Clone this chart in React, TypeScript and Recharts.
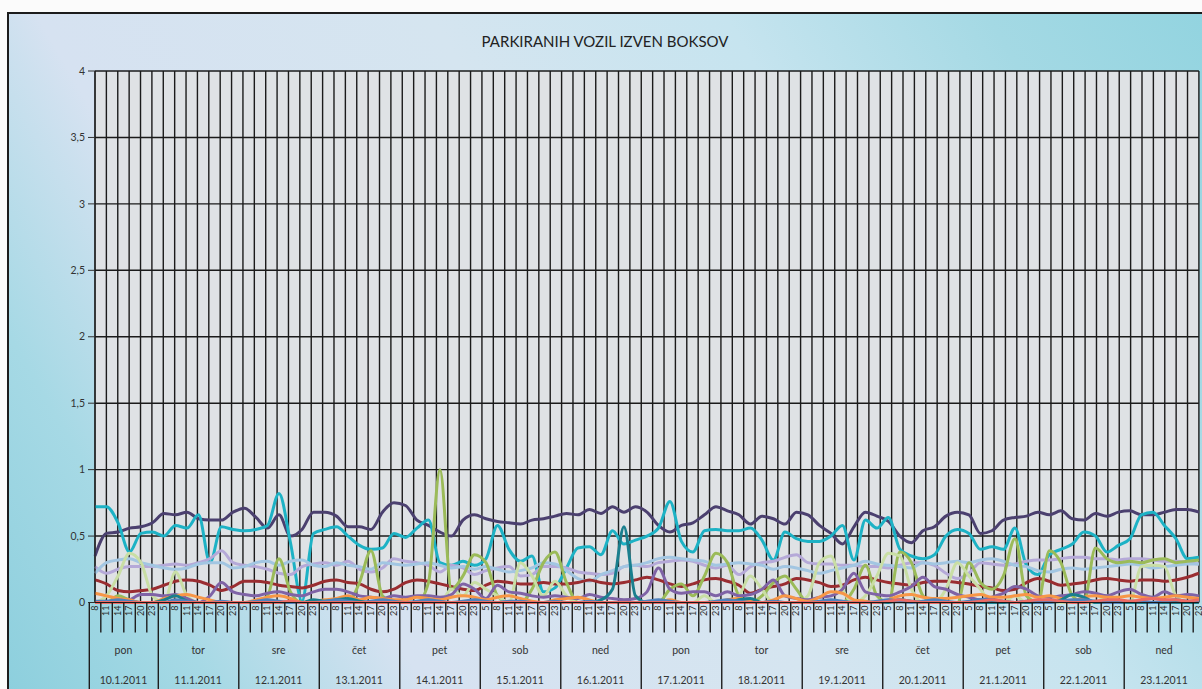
import { ComposedChart, Line, XAxis, YAxis, CartesianGrid } from "recharts";

// days shown on the category axis
const dayNames = ["pon", "tor", "sre", "čet", "pet", "sob", "ned", "pon", "tor", "sre", "čet", "pet", "sob", "ned"];
const dates = ["10.1.2011", "11.1.2011", "12.1.2011", "13.1.2011", "14.1.2011", "15.1.2011", "16.1.2011",
  "17.1.2011", "18.1.2011", "19.1.2011", "20.1.2011", "21.1.2011", "22.1.2011", "23.1.2011"];
const firstDayHours = [8, 11, 14, 17, 20, 23];
const dayHours = [5, 8, 11, 14, 17, 20, 23];

const yTicks = [0, 0.5, 1, 1.5, 2, 2.5, 3, 3.5, 4];

// one row per day
const s1 = [
  0.35, 0.52, 0.53, 0.56, 0.57, 0.60,
  0.67, 0.66, 0.68, 0.63, 0.62, 0.62, 0.68,
  0.71, 0.64, 0.56, 0.66, 0.50, 0.55, 0.68,
  0.68, 0.65, 0.57, 0.57, 0.55, 0.68, 0.75,
  0.73, 0.62, 0.58, 0.53, 0.50, 0.62, 0.66,
  0.63, 0.61, 0.60, 0.59, 0.62, 0.63, 0.65,
  0.67, 0.66, 0.70, 0.67, 0.72, 0.68, 0.72,
  0.68, 0.58, 0.53, 0.58, 0.60, 0.66, 0.72,
  0.69, 0.66, 0.59, 0.65, 0.63, 0.59, 0.68,
  0.66, 0.58, 0.52, 0.44, 0.57, 0.68, 0.65,
  0.61, 0.50, 0.45, 0.54, 0.57, 0.65, 0.68,
  0.66, 0.52, 0.54, 0.62, 0.64, 0.65, 0.68,
  0.66, 0.69, 0.63, 0.62, 0.67, 0.65, 0.68,
  0.69, 0.66, 0.66, 0.68, 0.70, 0.70, 0.68,
];
const s2 = [
  0.72, 0.72, 0.60, 0.38, 0.52, 0.53,
  0.50, 0.58, 0.56, 0.66, 0.30, 0.57, 0.55,
  0.54, 0.55, 0.58, 0.82, 0.45, 0.01, 0.52,
  0.55, 0.57, 0.50, 0.43, 0.40, 0.41, 0.52,
  0.49, 0.56, 0.62, 0.30, 0.28, 0.31, 0.28,
  0.33, 0.58, 0.40, 0.31, 0.35, 0.08, 0.11,
  0.26, 0.41, 0.42, 0.36, 0.54, 0.44, 0.47,
  0.50, 0.56, 0.76, 0.46, 0.38, 0.54, 0.55,
  0.54, 0.54, 0.56, 0.47, 0.32, 0.53, 0.48,
  0.46, 0.46, 0.50, 0.58, 0.32, 0.62, 0.56,
  0.64, 0.40, 0.35, 0.33, 0.36, 0.50, 0.55,
  0.52, 0.40, 0.42, 0.40, 0.56, 0.28, 0.21,
  0.36, 0.40, 0.44, 0.53, 0.50, 0.38, 0.43,
  0.48, 0.66, 0.68, 0.58, 0.48, 0.33, 0.34,
];
const s3 = [
  0.27, 0.22, 0.25, 0.27, 0.27, 0.27,
  0.28, 0.29, 0.28, 0.30, 0.33, 0.39, 0.30,
  0.28, 0.27, 0.25, 0.22, 0.21, 0.27, 0.29,
  0.30, 0.28, 0.31, 0.25, 0.23, 0.26, 0.33,
  0.31, 0.30, 0.28, 0.23, 0.28, 0.26, 0.21,
  0.24, 0.26, 0.27, 0.20, 0.21, 0.27, 0.27,
  0.26, 0.23, 0.22, 0.21, 0.22, 0.27, 0.28,
  0.27, 0.30, 0.31, 0.32, 0.31, 0.28, 0.26,
  0.28, 0.21, 0.27, 0.30, 0.31, 0.34, 0.36,
  0.30, 0.29, 0.29, 0.28, 0.28, 0.27, 0.27,
  0.26, 0.28, 0.30, 0.30, 0.28, 0.22, 0.18,
  0.22, 0.30, 0.29, 0.28, 0.29, 0.31, 0.32,
  0.32, 0.33, 0.34, 0.34, 0.33, 0.33, 0.32,
  0.33, 0.33, 0.32, 0.31, 0.31, 0.30, 0.29,
];
const s4 = [
  0.22, 0.30, 0.32, 0.33, 0.30, 0.28,
  0.26, 0.25, 0.26, 0.29, 0.30, 0.30, 0.26,
  0.27, 0.30, 0.31, 0.28, 0.31, 0.32, 0.28,
  0.27, 0.30, 0.28, 0.27, 0.25, 0.30, 0.29,
  0.28, 0.29, 0.30, 0.28, 0.26, 0.27, 0.25,
  0.27, 0.25, 0.23, 0.24, 0.26, 0.30, 0.29,
  0.24, 0.18, 0.16, 0.21, 0.24, 0.27, 0.28,
  0.30, 0.33, 0.34, 0.33, 0.32, 0.31, 0.28,
  0.29, 0.30, 0.29, 0.28, 0.25, 0.27, 0.26,
  0.24, 0.22, 0.24, 0.26, 0.28, 0.31, 0.29,
  0.28, 0.27, 0.26, 0.30, 0.29, 0.30, 0.31,
  0.30, 0.32, 0.33, 0.31, 0.28, 0.27, 0.24,
  0.23, 0.25, 0.26, 0.25, 0.26, 0.27, 0.28,
  0.29, 0.28, 0.26, 0.27, 0.28, 0.29, 0.29,
];
const s5 = [
  0.17, 0.14, 0.09, 0.08, 0.09, 0.10,
  0.13, 0.16, 0.17, 0.16, 0.13, 0.09, 0.12,
  0.16, 0.16, 0.15, 0.13, 0.12, 0.11, 0.13,
  0.16, 0.17, 0.15, 0.14, 0.10, 0.08, 0.10,
  0.15, 0.17, 0.16, 0.14, 0.12, 0.10, 0.09,
  0.13, 0.16, 0.15, 0.14, 0.14, 0.15, 0.14,
  0.14, 0.15, 0.17, 0.15, 0.14, 0.15, 0.17,
  0.19, 0.17, 0.14, 0.12, 0.14, 0.17, 0.18,
  0.16, 0.13, 0.07, 0.10, 0.12, 0.14, 0.18,
  0.17, 0.15, 0.12, 0.13, 0.17, 0.19, 0.17,
  0.15, 0.14, 0.13, 0.15, 0.16, 0.16, 0.15,
  0.14, 0.12, 0.11, 0.09, 0.10, 0.15, 0.18,
  0.16, 0.13, 0.14, 0.15, 0.17, 0.18, 0.17,
  0.16, 0.17, 0.17, 0.16, 0.17, 0.19, 0.22,
];
const s6 = [
  0, 0, 0.05, 0.02, 0, 0,
  0, 0, 0, 0, 0, 0, 0,
  0, 0, 0.05, 0.33, 0.08, 0, 0,
  0, 0, 0, 0.15, 0.39, 0.05, 0,
  0, 0, 0.15, 1.0, 0.1, 0.2, 0.36,
  0.3, 0.05, 0, 0, 0.1, 0.3, 0.38,
  0.15, 0, 0, 0, 0, 0, 0,
  0, 0, 0.1, 0.14, 0.05, 0.2, 0.37,
  0.3, 0.05, 0, 0.05, 0.15, 0.2, 0.1,
  0, 0, 0, 0, 0.1, 0.28, 0.05,
  0, 0.38, 0.3, 0.05, 0, 0, 0,
  0.3, 0.15, 0.1, 0.2, 0.48, 0.05, 0,
  0.39, 0.3, 0.05, 0, 0.41, 0.33, 0.3,
  0.31, 0.3, 0.32, 0.33, 0.3, 0.31, 0.32,
];
const s7 = [
  0, 0.05, 0.2, 0.37, 0.3, 0.05,
  0, 0.23, 0.05, 0, 0, 0, 0,
  0, 0, 0, 0, 0, 0, 0,
  0, 0, 0, 0, 0, 0, 0,
  0, 0, 0, 0, 0.1, 0.05, 0.15,
  0.1, 0.05, 0, 0.3, 0.2, 0.05, 0.16,
  0.05, 0, 0, 0, 0, 0, 0,
  0, 0, 0, 0, 0, 0.05, 0,
  0, 0.05, 0.2, 0.1, 0, 0, 0,
  0.05, 0.3, 0.35, 0.1, 0, 0.05, 0.2,
  0.37, 0.35, 0.1, 0, 0, 0.1, 0.3,
  0.2, 0.1, 0, 0, 0.05, 0, 0,
  0, 0, 0, 0, 0, 0.05, 0,
  0, 0.27, 0.28, 0.27, 0.05, 0, 0,
];
const s8 = [
  0, 0, 0, 0.02, 0.06, 0.06,
  0.05, 0.06, 0.03, 0, 0.05, 0.15, 0.08,
  0.06, 0.05, 0.07, 0.08, 0.06, 0.05, 0.08,
  0.1, 0.1, 0.08, 0.05, 0.04, 0.03, 0.05,
  0.04, 0.05, 0.05, 0.04, 0.06, 0.14, 0.1,
  0.03, 0.13, 0.08, 0.07, 0.05, 0.04, 0.05,
  0.04, 0.03, 0.06, 0.04, 0.03, 0.02, 0.03,
  0.08, 0.26, 0.1, 0.07, 0.08, 0.08, 0.05,
  0.08, 0.05, 0.06, 0.1, 0.17, 0.05, 0.03,
  0.02, 0.04, 0.05, 0.1, 0.22, 0.08, 0.06,
  0.05, 0.08, 0.12, 0.19, 0.12, 0.1, 0.06,
  0.04, 0.02, 0.04, 0.07, 0.12, 0.1, 0.05,
  0.04, 0.05, 0.06, 0.08, 0.07, 0.05, 0.08,
  0.1, 0.06, 0.04, 0.08, 0.05, 0.06, 0.05,
];
const s9 = [
  0.07, 0.05, 0.03, 0.02, 0, 0,
  0.03, 0.05, 0.06, 0.04, 0.02, 0, 0,
  0, 0.02, 0.04, 0.05, 0.03, 0, 0.01,
  0.02, 0.03, 0.05, 0.02, 0.04, 0.03, 0.02,
  0.02, 0.04, 0.03, 0.02, 0.04, 0.05, 0.04,
  0.02, 0.04, 0.05, 0.03, 0.01, 0, 0.02,
  0.03, 0.04, 0.02, 0, 0, 0, 0,
  0, 0, 0.02, 0, 0, 0, 0,
  0.02, 0.03, 0.01, 0, 0.02, 0.05, 0.03,
  0.01, 0.04, 0.08, 0.07, 0.02, 0.01, 0,
  0.02, 0.05, 0.06, 0.04, 0.03, 0.03, 0.04,
  0.05, 0.06, 0.04, 0.04, 0.05, 0.06, 0.04,
  0.05, 0.03, 0.01, 0.04, 0.05, 0.04, 0.04,
  0.05, 0.04, 0.03, 0.04, 0.05, 0.04, 0.03,
];
const s10 = [
  0, 0, 0, 0, 0, 0,
  0.02, 0.05, 0.01, 0, 0, 0, 0,
  0, 0, 0, 0, 0, 0, 0.02,
  0.01, 0.02, 0.03, 0.01, 0, 0, 0,
  0, 0, 0, 0, 0, 0, 0,
  0, 0, 0, 0, 0, 0, 0,
  0, 0, 0, 0.02, 0.1, 0.57, 0.05,
  0, 0, 0, 0, 0, 0, 0,
  0, 0.02, 0.03, 0, 0, 0, 0,
  0, 0, 0, 0, 0, 0, 0,
  0, 0.02, 0.01, 0, 0, 0, 0,
  0, 0, 0, 0, 0, 0, 0,
  0, 0.02, 0.06, 0.04, 0, 0, 0,
  0, 0, 0, 0, 0, 0, 0,
];
const s11 = [
  0.01, 0.01, 0.02, 0.01, 0, 0,
  0, 0.02, 0.01, 0, 0, 0.01, 0,
  0, 0.01, 0.02, 0.01, 0, 0, 0,
  0.01, 0.02, 0.01, 0, 0.01, 0.02, 0.01,
  0, 0.01, 0.02, 0.01, 0, 0.01, 0.02,
  0.01, 0, 0.01, 0.01, 0, 0, 0.01,
  0, 0, 0.01, 0, 0, 0, 0,
  0.01, 0.02, 0.01, 0, 0, 0, 0.01,
  0.02, 0.01, 0, 0, 0.01, 0, 0,
  0, 0.01, 0.02, 0.01, 0, 0, 0.01,
  0.02, 0.01, 0, 0.01, 0.02, 0.01, 0,
  0.01, 0.02, 0.02, 0.01, 0, 0.01, 0,
  0, 0.01, 0.02, 0.02, 0.01, 0, 0,
  0.01, 0.01, 0, 0.01, 0.02, 0.01, 0.01,
];
const s12 = [
  0, 0, 0, 0, 0, 0,
  0, 0, 0, 0, 0, 0, 0,
  0, 0, 0, 0, 0.01, 0, 0,
  0, 0, 0, 0, 0, 0, 0,
  0, 0, 0, 0, 0, 0, 0,
  0, 0, 0, 0, 0, 0, 0,
  0, 0, 0, 0, 0, 0, 0,
  0, 0, 0, 0, 0, 0, 0,
  0, 0, 0, 0, 0, 0, 0,
  0, 0, 0, 0, 0, 0, 0,
  0.01, 0.02, 0.01, 0, 0, 0, 0,
  0, 0.01, 0.02, 0.01, 0, 0.01, 0.02,
  0.02, 0.01, 0, 0, 0.01, 0.02, 0.02,
  0.01, 0.02, 0.03, 0.02, 0.02, 0.01, 0.02,
];

const series = [
  { key: "s1", values: s1, color: "#4b406f" },
  { key: "s2", values: s2, color: "#1db2c5" },
  { key: "s3", values: s3, color: "#b5a9d8" },
  { key: "s4", values: s4, color: "#a2c6e2" },
  { key: "s5", values: s5, color: "#9a2d31" },
  { key: "s6", values: s6, color: "#9bbb59" },
  { key: "s7", values: s7, color: "#c9dea5" },
  { key: "s8", values: s8, color: "#7f63a6" },
  { key: "s9", values: s9, color: "#f79646" },
  { key: "s10", values: s10, color: "#1a7f8e" },
  { key: "s11", values: s11, color: "#4f81bd" },
  { key: "s12", values: s12, color: "#ec6a64" },
];

// build category rows: one per hour slot
const rows: any[] = [];
dayNames.forEach((_, d) => {
  const hours = d === 0 ? firstDayHours : dayHours;
  hours.forEach((h, k) => {
    rows.push({ cat: `${d}-${h}`, hour: h, day: d, first: k === 0, count: hours.length });
  });
});
rows.forEach((row, i) => {
  series.forEach((s) => {
    row[s.key] = s.values[i];
  });
});

const W = 1232;
const H = 675;
const M_LEFT = 46;
const Y_W = 40;
const M_RIGHT = 42.1;
const BAND = (W - M_LEFT - Y_W - M_RIGHT) / rows.length;
const font = 'Lato, "Open Sans", "Liberation Sans", sans-serif';

function HourTick(props: any) {
  const { x, y, payload } = props;
  const row = rows[payload.index];
  if (!row) return null;
  const left = x - BAND / 2;
  return (
    <g>
      <line x1={left} y1={y} x2={left} y2={row.first ? y + 100 : y + 30} stroke="#1e1e1e" strokeWidth={1.4} />
      <text
        x={x + 2.8}
        y={y + 3}
        transform={`rotate(-90, ${x + 2.8}, ${y + 3})`}
        textAnchor="end"
        fontSize={9}
        fontFamily={font}
        fill="#2a2a2a"
      >
        {row.hour}
      </text>
      {row.first && (
        <>
          <text x={left + (row.count * BAND) / 2} y={y + 51} textAnchor="middle" fontSize={10.5} fontFamily={font} fill="#333">
            {dayNames[row.day]}
          </text>
          <text x={left + (row.count * BAND) / 2} y={y + 81} textAnchor="middle" fontSize={10.5} fontFamily={font} fill="#333">
            {dates[row.day]}
          </text>
        </>
      )}
    </g>
  );
}

export default function App() {
  return (
    <div style={{ position: "absolute", left: 0, top: 0, width: 1202, height: 689, overflow: "hidden", background: "#fbfbfb" }}>
      <div
        style={{
          position: "absolute",
          left: 7,
          top: 12,
          width: 1240,
          height: 690,
          border: "2px solid #1c1c1c",
          background:
            "linear-gradient(60deg, #8ccfdd 0%, #a6d9e5 13%, #d6e2f1 26%, #d5e5f0 50%, #c6e4ef 68%, #a4d9e4 84%, #8fd3df 100%)",
        }}
      >
        <div
          style={{
            position: "absolute",
            left: 0,
            top: 18,
            width: 1192,
            textAlign: "center",
            fontFamily: font,
            fontSize: 15,
            color: "#222",
          }}
        >
          PARKIRANIH VOZIL IZVEN BOKSOV
        </div>
        <ComposedChart width={W} height={H} data={rows} margin={{ top: 57, right: M_RIGHT, bottom: 0, left: M_LEFT }}>
          <CartesianGrid
            fill="#dfe2e5"
            stroke="#1b1b1b"
            strokeWidth={1.4}
            verticalCoordinatesGenerator={({ offset }: any) =>
              Array.from({ length: rows.length + 1 }, (_, k) => offset.left + (k * offset.width) / rows.length)
            }
          />
          <XAxis
            dataKey="cat"
            interval={0}
            height={86.5}
            tickSize={0}
            tickMargin={0}
            tickLine={false}
            axisLine={{ stroke: "#1b1b1b" }}
            tick={<HourTick />}
          />
          <YAxis
            width={Y_W}
            domain={[0, 4]}
            ticks={yTicks}
            tickSize={7}
            tickMargin={3}
            tickFormatter={(v: number) => String(v).replace(".", ",")}
            axisLine={{ stroke: "#1b1b1b" }}
            tickLine={{ stroke: "#333" }}
            tick={{ fontSize: 10.5, fontFamily: font, fill: "#333" }}
          />
          {series.map((s) => (
            <Line
              key={s.key}
              dataKey={s.key}
              type="monotone"
              stroke={s.color}
              strokeWidth={3}
              dot={false}
              activeDot={false}
              isAnimationActive={false}
            />
          ))}
        </ComposedChart>
      </div>
    </div>
  );
}
